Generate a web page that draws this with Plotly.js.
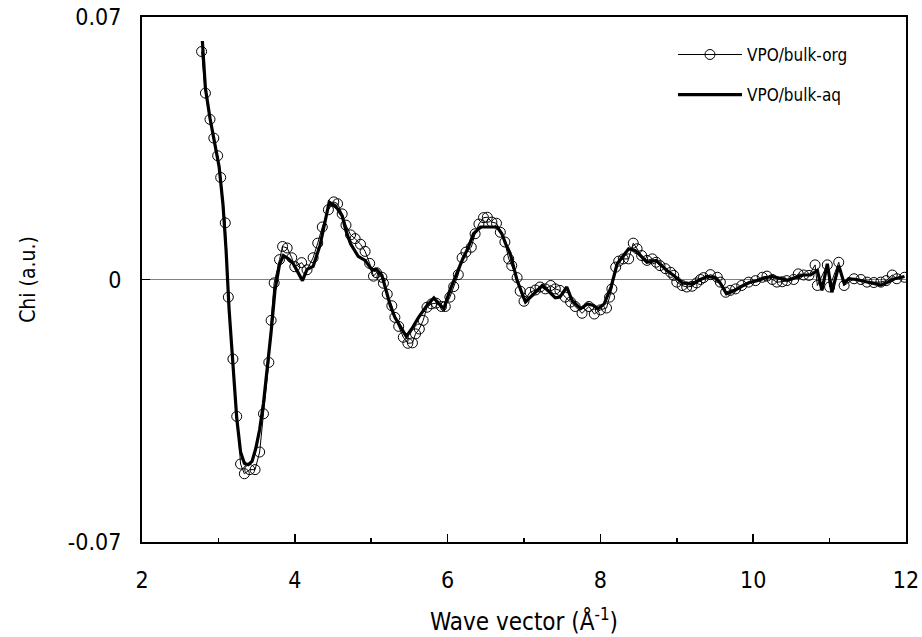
<!DOCTYPE html>
<html>
<head>
<meta charset="utf-8">
<script src="https://cdn.plot.ly/plotly-3.0.1.min.js"></script>
<style>html,body{margin:0;padding:0;background:#fff}#chart{width:922px;height:637px}</style>
</head>
<body>
<div id="chart"></div>
<script>
// VPO/bulk-org (open circles)
const orgK = [2.78,2.83,2.89,2.94,2.99,3.03,3.09,3.13,3.19,3.24,3.29,3.34,3.41,3.48,3.54,3.59,3.66,3.69,3.73,3.80,3.84,3.90,3.96,4.00,4.09,4.16,4.24,4.30,4.36,4.44,4.51,4.56,4.62,4.67,4.73,4.79,4.86,4.92,4.98,5.03,5.07,5.14,5.16,5.21,5.27,5.31,5.36,5.42,5.48,5.54,5.58,5.63,5.68,5.73,5.79,5.85,5.92,5.97,6.03,6.08,6.14,6.19,6.24,6.31,6.36,6.41,6.47,6.52,6.58,6.64,6.69,6.75,6.80,6.84,6.91,6.95,7.00,7.08,7.15,7.21,7.28,7.35,7.41,7.47,7.54,7.61,7.67,7.76,7.85,7.92,8.00,8.08,8.12,8.15,8.20,8.24,8.30,8.37,8.43,8.48,8.54,8.61,8.68,8.73,8.78,8.85,8.92,8.96,9.00,9.07,9.13,9.20,9.26,9.31,9.35,9.44,9.53,9.57,9.64,9.70,9.77,9.85,9.94,10.03,10.12,10.18,10.25,10.31,10.38,10.44,10.53,10.59,10.66,10.73,10.81,10.84,10.97,11.00,11.12,11.19,11.32,11.41,11.49,11.58,11.67,11.74,11.82,11.88,11.98];
const orgChi = [0.0608,0.0497,0.0427,0.0377,0.0330,0.0272,0.0151,-0.0047,-0.0212,-0.0365,-0.0492,-0.0518,-0.0507,-0.0507,-0.0460,-0.0358,-0.0221,-0.0109,-0.0009,0.0053,0.0088,0.0084,0.0058,0.0034,0.0045,0.0026,0.0058,0.0097,0.0140,0.0186,0.0207,0.0202,0.0175,0.0145,0.0119,0.0109,0.0094,0.0075,0.0043,0.0009,0.0018,0.0006,-0.0010,-0.0039,-0.0070,-0.0101,-0.0125,-0.0154,-0.0170,-0.0169,-0.0145,-0.0132,-0.0109,-0.0074,-0.0065,-0.0063,-0.0072,-0.0072,-0.0047,-0.0019,0.0013,0.0058,0.0073,0.0086,0.0122,0.0148,0.0165,0.0166,0.0153,0.0150,0.0126,0.0100,0.0055,0.0037,0.0005,-0.0031,-0.0058,-0.0034,-0.0028,-0.0020,-0.0025,-0.0016,-0.0025,-0.0029,-0.0047,-0.0060,-0.0072,-0.0090,-0.0072,-0.0092,-0.0081,-0.0076,-0.0047,-0.0025,0.0033,0.0049,0.0055,0.0055,0.0097,0.0082,0.0064,0.0051,0.0055,0.0046,0.0037,0.0029,0.0019,0.0011,-0.0007,-0.0016,-0.0020,-0.0018,-0.0009,0.0000,0.0005,0.0013,0.0006,-0.0007,-0.0034,-0.0029,-0.0025,-0.0016,-0.0007,-0.0003,0.0006,0.0009,0.0000,-0.0007,-0.0006,-0.0003,0.0000,0.0015,0.0012,0.0011,0.0039,-0.0016,0.0039,-0.0020,0.0046,-0.0016,0.0002,0.0000,-0.0007,-0.0008,-0.0007,-0.0003,0.0012,0.0002,0.0006];

// VPO/bulk-aq (thick line)
const aqK = [2.79,2.83,2.89,2.95,3.01,3.06,3.10,3.14,3.19,3.24,3.29,3.34,3.39,3.44,3.49,3.54,3.59,3.64,3.69,3.74,3.80,3.85,3.92,3.98,4.04,4.10,4.16,4.24,4.33,4.39,4.45,4.53,4.62,4.67,4.73,4.83,4.92,5.01,5.07,5.14,5.20,5.25,5.31,5.39,5.46,5.53,5.62,5.73,5.82,5.88,5.95,6.03,6.12,6.19,6.27,6.34,6.43,6.56,6.65,6.71,6.76,6.82,6.91,7.02,7.13,7.24,7.31,7.41,7.47,7.56,7.63,7.74,7.83,7.91,7.97,8.05,8.14,8.22,8.37,8.46,8.61,8.73,8.87,8.96,9.07,9.20,9.31,9.40,9.50,9.57,9.65,9.75,9.85,9.95,10.05,10.15,10.25,10.35,10.45,10.55,10.65,10.75,10.84,10.90,10.97,11.03,11.12,11.19,11.25,11.35,11.45,11.55,11.67,11.75,11.85,11.98];
const aqChi = [0.0636,0.0510,0.0430,0.0370,0.0300,0.0200,0.0080,-0.0080,-0.0230,-0.0370,-0.0460,-0.0490,-0.0494,-0.0485,-0.0450,-0.0400,-0.0330,-0.0240,-0.0140,-0.0030,0.0040,0.0064,0.0055,0.0042,0.0020,-0.0003,0.0027,0.0035,0.0091,0.0150,0.0206,0.0197,0.0170,0.0130,0.0095,0.0062,0.0051,0.0026,0.0027,0.0011,-0.0029,-0.0069,-0.0101,-0.0127,-0.0152,-0.0132,-0.0101,-0.0069,-0.0049,-0.0063,-0.0078,-0.0029,0.0019,0.0051,0.0085,0.0122,0.0140,0.0141,0.0140,0.0122,0.0095,0.0069,-0.0003,-0.0060,-0.0038,-0.0016,-0.0029,-0.0049,-0.0047,-0.0020,-0.0056,-0.0078,-0.0065,-0.0069,-0.0078,-0.0065,-0.0020,0.0042,0.0082,0.0077,0.0046,0.0051,0.0024,0.0011,-0.0009,-0.0012,0.0000,0.0008,0.0005,-0.0010,-0.0038,-0.0030,-0.0018,-0.0008,-0.0003,0.0004,0.0008,0.0002,-0.0002,0.0005,0.0012,0.0012,0.0024,-0.0029,0.0042,-0.0034,0.0037,-0.0010,0.0002,0.0000,-0.0005,-0.0010,-0.0015,-0.0008,0.0002,0.0008];

const seriesNames = ['VPO/bulk-org','VPO/bulk-aq'];
const xTickVals = [2, 4, 6, 8, 10, 12];
const xMinorVals = [3, 5, 7, 9, 11];
const yTickVals = [-0.07, 0, 0.07];
const yTickText = ['-0.07', '0', '0.07'];
const xTitle = 'Wave vector (Å<sup>-1</sup>)';
const yTitle = 'Chi (a.u.)';

const FONT = '"DejaVu Sans Condensed", "DejaVu Sans", sans-serif';

const traces = [
  {x: orgK, y: orgChi, name: seriesNames[0], legendgroup: 'a', type: 'scatter', mode: 'lines+markers',
   line: {color: '#000', width: 1},
   marker: {symbol: 'circle-open', size: 10, color: '#000', line: {width: 1, color: '#000'}}},
  {x: aqK, y: aqChi, name: seriesNames[1], legendgroup: 'b', type: 'scatter', mode: 'lines',
   line: {color: '#000', width: 3.2}}
];

const layout = {
  width: 922, height: 637,
  margin: {l: 142, r: 16, t: 17, b: 95},
  paper_bgcolor: '#fff', plot_bgcolor: '#fff',
  font: {family: FONT, color: '#000', size: 22},
  showlegend: true,
  legend: {x: 0.695, y: 0.962, xanchor: 'left', yanchor: 'top', bgcolor: 'rgba(0,0,0,0)',
           font: {family: FONT, size: 17, color: '#000'}, itemwidth: 64,
           traceorder: 'grouped', tracegroupgap: 15},
  xaxis: {
    range: [2, 12.0001], tickvals: xTickVals, ticks: 'inside', ticklen: 8, tickwidth: 1.5, tickcolor: '#000',
    minor: {tickvals: xMinorVals, ticks: 'inside', ticklen: 4, tickwidth: 1.5, tickcolor: '#000'},
    showline: true, linecolor: '#000', linewidth: 2, mirror: true, showgrid: false, zeroline: false,
    tickfont: {family: FONT, size: 23}, ticklabelstandoff: 16,
    title: {text: xTitle, font: {family: FONT, size: 24}, standoff: 22}
  },
  yaxis: {
    range: [-0.07, 0.07], tickvals: yTickVals, ticktext: yTickText, ticks: 'inside', ticklen: 8, tickwidth: 1.5, tickcolor: '#000',
    showline: true, linecolor: '#000', linewidth: 2, mirror: true, showgrid: false,
    zeroline: true, zerolinecolor: '#808080', zerolinewidth: 1.5,
    tickfont: {family: FONT, size: 23}, ticklabelstandoff: 14,
    title: {text: yTitle, font: {family: FONT, size: 21}, standoff: 27}
  }
};

Plotly.newPlot('chart', traces, layout, {displayModeBar: false, staticPlot: true});
</script>
</body>
</html>
